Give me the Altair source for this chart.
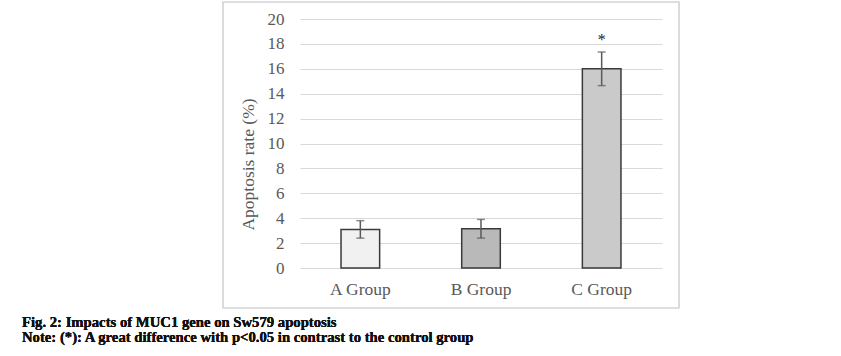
import altair as alt
import pandas as pd

groups = ["A Group", "B Group", "C Group"]
rates = [3.1, 3.15, 16.0]
errors = [0.7, 0.75, 1.35]
marks = ["", "", "*"]
fills = ["#f1f1f1", "#b9b9b9", "#cacaca"]
ticks = list(range(0, 21, 2))

df = pd.DataFrame({
    "group": groups,
    "rate": rates,
    "lo": [r - e for r, e in zip(rates, errors)],
    "hi": [r + e for r, e in zip(rates, errors)],
    "star": marks,
    "fill": fills,
})

serif = "Liberation Serif"

x_axis = alt.Axis(labelAngle=0, labelFont=serif, labelFontSize=17.5,
                  labelColor="#595959", ticks=False, domain=False,
                  labelPadding=12)
x_scale = alt.Scale(paddingInner=0.68, paddingOuter=0.34)
y_axis = alt.Axis(values=ticks, labelOverlap=False,
                  labelFont=serif, labelFontSize=17,
                  labelColor="#595959", titleFont=serif, titleFontSize=17.5,
                  titleColor="#595959", titleFontWeight="normal",
                  titleY=145, titleAnchor="middle",
                  ticks=False, domain=False, gridColor="#d9d9d9",
                  gridWidth=1, labelPadding=16, titlePadding=10)
y_scale = alt.Scale(domain=[0, 20], nice=False)


def X():
    return alt.X("group:N", sort=groups, title=None, scale=x_scale, axis=x_axis)


def Y(field):
    return alt.Y(field, title="Apoptosis rate (%)", scale=y_scale, axis=y_axis)


base = alt.Chart(df)

frame = base.mark_rect(fill=None, stroke="#d9d9d9", strokeWidth=1.2, clip=False).encode(
    x=alt.value(-77), x2=alt.value(379), y=alt.value(-17), y2=alt.value(289)
)

bars = base.mark_bar(stroke="#3a3a3a", strokeWidth=1.5).encode(
    x=X(), y=Y("rate:Q"), fill=alt.Fill("fill:N", scale=None)
)

rule = base.mark_rule(color="#5a5a5a", strokeWidth=1.5).encode(
    x=X(), y=Y("lo:Q"), y2="hi:Q"
)
cap_hi = base.mark_tick(color="#5a5a5a", thickness=1.5, size=8).encode(
    x=X(), y=Y("hi:Q")
)
cap_lo = base.mark_tick(color="#5a5a5a", thickness=1.5, size=8).encode(
    x=X(), y=Y("lo:Q")
)
star = base.mark_text(font=serif, fontSize=16, baseline="bottom", dy=-4, color="#222222").encode(
    x=X(), y=Y("hi:Q"), text="star:N"
)

cap1 = base.mark_text(font=serif, fontSize=14.7, fontWeight="bold", align="left",
                      baseline="alphabetic", color="#111111").encode(
    x=alt.value(-278), y=alt.value(308), text=alt.value("Fig. 2: Impacts of MUC1 gene on Sw579 apoptosis")
)
cap2 = base.mark_text(font=serif, fontSize=14.7, fontWeight="bold", align="left",
                      baseline="alphabetic", color="#111111").encode(
    x=alt.value(-278), y=alt.value(323), text=alt.value("Note: (*): A great difference with p<0.05 in contrast to the control group")
)

chart = alt.layer(frame, bars, rule, cap_hi, cap_lo, star, cap1, cap2).properties(
    width=362, height=249,
    padding={"left": 300, "top": 19, "right": 179, "bottom": 88},
    autosize="none",
    background="white",
).configure_view(stroke=None)

chart.save("out.html", embed_options={"renderer": "svg", "actions": False})
